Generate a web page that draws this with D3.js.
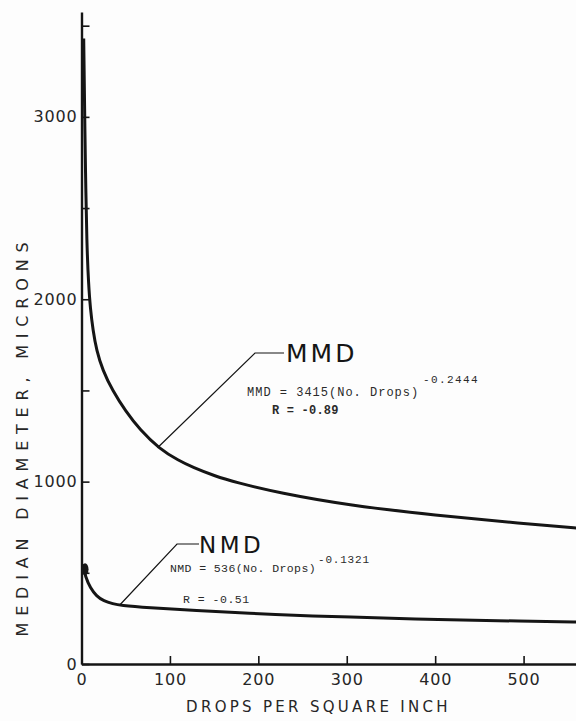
<!DOCTYPE html>
<html>
<head>
<meta charset="utf-8">
<script src="https://cdn.jsdelivr.net/npm/d3@7"></script>
<style>
  body { margin: 0; background: #fdfdfd; }
  svg { display: block; }
</style>
</head>
<body>
<div id="chart"></div>
<script>
// values (drops per square inch -> median diameter, microns)
const mmdDrops = [2.5, 3.5, 4.5, 6, 8, 10, 13, 17, 24, 35, 50, 66, 88, 110, 126, 150, 175, 224, 300, 400, 500, 560, 600];
const mmdDiam = [3430, 3050, 2700, 2300, 2080, 1950, 1830, 1720, 1610, 1500, 1385, 1285, 1180, 1115, 1078, 1032, 995, 938, 872, 815, 770, 745, 732];

const nmdDrops = [1.5, 4.5, 10, 17, 25, 36, 43, 77, 120, 224, 300, 405, 500, 560, 600];
const nmdDiam = [545, 477, 417, 372, 346, 330, 322, 308, 295, 269, 258, 243, 235, 230, 228];

const yTicks = [0, 500, 1000, 1500, 2000, 2500, 3000, 3500];
const yLabels = [0, 1000, 2000, 3000];
const xTicks = [0, 100, 200, 300, 400, 500, 600];
const xLabels = [0, 100, 200, 300, 400, 500];

// where the leader lines touch the curves
const mmdAnchor = [86, 1186];
const nmdAnchor = [43, 322];

const width = 576;
const height = 721;
const ink = "#151515";

const svg = d3
  .select("#chart")
  .append("svg")
  .attr("width", width)
  .attr("height", height);

// scales
const x = d3.scaleLinear().domain([0, 600]).range([81.5, 612]);
const y = d3.scaleLinear().domain([0, 3575]).range([664, 12]);

// y axis, ticks point inward
const yAxis = svg
  .append("g")
  .attr("transform", `translate(${x(0)},0)`)
  .call(
    d3
      .axisLeft(y)
      .tickValues(yTicks)
      .tickSize(-8)
      .tickSizeOuter(0)
      .tickPadding(4)
      .tickFormat((d) => (yLabels.includes(d) ? d : ""))
  );

// x axis
const xAxis = svg
  .append("g")
  .attr("transform", `translate(0,${y(0)})`)
  .call(
    d3
      .axisBottom(x)
      .tickValues(xTicks)
      .tickSize(-8)
      .tickSizeOuter(0)
      .tickPadding(10)
      .tickFormat((d) => (xLabels.includes(d) ? d : ""))
  );

[yAxis, xAxis].forEach((g) => {
  g.select(".domain").attr("stroke", ink).attr("stroke-width", 2.4);
  g.selectAll(".tick line").attr("stroke", ink).attr("stroke-width", 1.6);
  g.selectAll(".tick text")
    .attr("fill", "#262626")
    .attr("font-family", "DejaVu Sans")
    .attr("font-size", 16)
    .attr("letter-spacing", 0.8);
});

// axis titles
svg
  .append("text")
  .attr("transform", `translate(28,${y(1250)}) rotate(-90)`)
  .attr("text-anchor", "middle")
  .attr("font-family", "DejaVu Sans")
  .attr("font-size", 16)
  .attr("letter-spacing", 6.8)
  .attr("fill", "#262626")
  .text("MEDIAN DIAMETER, MICRONS");

svg
  .append("text")
  .attr("x", x(268))
  .attr("y", 712)
  .attr("text-anchor", "middle")
  .attr("font-family", "DejaVu Sans")
  .attr("font-size", 15)
  .attr("letter-spacing", 3.3)
  .attr("fill", "#262626")
  .text("DROPS PER SQUARE INCH");

// curves
const line = d3
  .line()
  .x((d) => x(d[0]))
  .y((d) => y(d[1]))
  .curve(d3.curveBasis);

const curves = [
  d3.zip(mmdDrops, mmdDiam),
  d3.zip(nmdDrops, nmdDiam),
];

svg
  .append("g")
  .selectAll("path")
  .data(curves)
  .join("path")
  .attr("d", line)
  .attr("fill", "none")
  .attr("stroke", ink)
  .attr("stroke-width", 3)
  .attr("stroke-linejoin", "round");

// little clump of points at the start of NMD
svg
  .append("ellipse")
  .attr("cx", x(4))
  .attr("cy", y(520))
  .attr("rx", 3.5)
  .attr("ry", 6)
  .attr("fill", ink);

// leaders
const leader = (anchor, elbow, end) =>
  svg
    .append("polyline")
    .attr("points", [[x(anchor[0]), y(anchor[1])], elbow, end].join(" "))
    .attr("fill", "none")
    .attr("stroke", ink)
    .attr("stroke-width", 1.2);

leader(mmdAnchor, [255, 353], [284, 353]);
leader(nmdAnchor, [177, 544], [199, 544]);

// annotation labels
const label = (tx, ty, size, spacing, txt) =>
  svg
    .append("text")
    .attr("x", tx)
    .attr("y", ty)
    .attr("font-family", "DejaVu Sans")
    .attr("font-size", size)
    .attr("letter-spacing", spacing)
    .attr("fill", ink)
    .text(txt);

label(286, 362, 25, 3, "MMD");
label(199, 553, 23, 3.5, "NMD");

const mono = (tx, ty, size, spacing, txt) =>
  svg
    .append("text")
    .attr("x", tx)
    .attr("y", ty)
    .attr("font-family", "Liberation Mono")
    .attr("font-size", size)
    .attr("letter-spacing", spacing)
    .attr("fill", "#2a2a2a")
    .text(txt);

mono(247, 396, 12, 1, "MMD = 3415(No. Drops)");
mono(423, 383, 11, 1.4, "-0.2444");
mono(272, 414, 12, 0.2, "R = -0.89").attr("font-weight", "bold");

mono(170, 572, 11.5, 0.4, "NMD = 536(No. Drops)");
mono(318, 563, 11, 0.8, "-0.1321");
mono(183, 603, 11.5, 0.5, "R = -0.51");
</script>
</body>
</html>
